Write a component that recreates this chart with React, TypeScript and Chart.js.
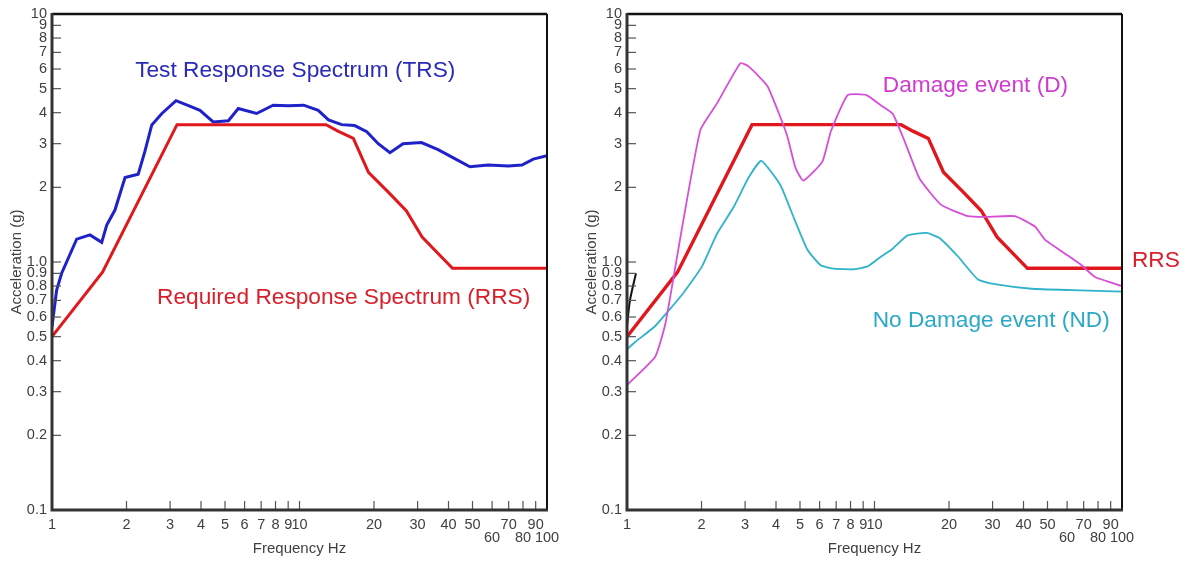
import React, { useEffect, useRef } from 'react';
import { Chart, registerables } from 'chart.js';

Chart.register(...registerables);

// ---------- tick values ----------
const xTickValues = [1, 2, 3, 4, 5, 6, 7, 8, 9, 10, 20, 30, 40, 50, 60, 70, 80, 90, 100];
const xSecondLine = [60, 80, 100];
const yTickValues = [0.1, 0.2, 0.3, 0.4, 0.5, 0.6, 0.7, 0.8, 0.9, 1, 2, 3, 4, 5, 6, 7, 8, 9, 10];

// ---------- left chart: TRS vs RRS ----------
const trsFreq = [1, 1.044, 1.094, 1.258, 1.424, 1.588, 1.664, 1.796, 1.973, 2.23, 2.37, 2.53, 2.78, 3.17, 3.56, 3.96, 4.48, 5.16, 5.66, 6.71, 7.83, 9.0, 10.4, 11.9, 13.1, 14.8, 16.7, 18.7, 20.8, 23.2, 26.2, 31.1, 36.3, 42.4, 48.8, 57.9, 69.8, 79.2, 88, 100];
const trsAcc = [0.548, 0.771, 0.901, 1.236, 1.286, 1.2, 1.41, 1.62, 2.19, 2.26, 2.78, 3.57, 3.97, 4.47, 4.27, 4.09, 3.67, 3.71, 4.16, 3.97, 4.29, 4.27, 4.29, 4.09, 3.74, 3.58, 3.55, 3.35, 3.0, 2.76, 3.0, 3.03, 2.84, 2.61, 2.42, 2.46, 2.44, 2.46, 2.6, 2.68];

const rrsFreq = [1, 1.6, 3.2, 12.8, 14.3, 16.5, 19.0, 23.0, 27.0, 31.3, 41.5, 100];
const rrsAcc = [0.5, 0.91, 3.58, 3.58, 3.37, 3.15, 2.3, 1.9, 1.61, 1.26, 0.943, 0.943];

// ---------- right chart: damage / no damage ----------
const dFreq = [1, 1.3, 1.43, 1.67, 1.98, 2.31, 2.87, 3.1, 3.69, 4.11, 4.44, 4.8, 5.16, 6.16, 6.66, 7.79, 9.27, 10.6, 11.85, 13.25, 15.2, 18.6, 23.9, 27.9, 36.9, 44.5, 48.8, 58.9, 68.7, 77.8, 100];
const dAcc = [0.319, 0.415, 0.566, 1.38, 3.41, 4.36, 6.33, 6.15, 5.13, 3.97, 3.22, 2.39, 2.13, 2.54, 3.36, 4.71, 4.71, 4.29, 3.96, 3.06, 2.17, 1.7, 1.53, 1.52, 1.53, 1.39, 1.23, 1.08, 0.97, 0.87, 0.8];

const ndFreq = [1, 1.08, 1.3, 1.69, 2.01, 2.31, 2.7, 3.1, 3.49, 4.17, 4.73, 5.36, 6.06, 6.87, 8.27, 9.38, 10.6, 11.7, 13.6, 16.2, 18.3, 21.8, 26.2, 31.6, 43.1, 62.7, 100];
const ndAcc = [0.445, 0.476, 0.552, 0.75, 0.96, 1.3, 1.67, 2.19, 2.56, 2.04, 1.5, 1.12, 0.97, 0.94, 0.935, 0.96, 1.05, 1.12, 1.28, 1.31, 1.25, 1.05, 0.85, 0.81, 0.78, 0.77, 0.76];

const markFreq = [1, 1.028, 1.087];
const markAcc = [0.55, 0.7, 0.9];

// ---------- styling ----------
const FONT = "'Liberation Sans', Arial, Helvetica, sans-serif";
const BLUE = '#1f22c9';
const RED = '#e0181d';
const MAGENTA = '#d64fd6';
const CYAN = '#2fb3cb';
const AXIS_TEXT = '#404040';

const toPoints = (xs: number[], ys: number[]) => xs.map((x, i) => ({ x, y: ys[i] }));

const framePlugin = {
  id: 'frame',
  afterDatasetsDraw(chart: any) {
    const { ctx, chartArea } = chart;
    const { left, right, top, bottom } = chartArea;
    const xs = chart.scales.x;
    const ys = chart.scales.y;
    ctx.save();
    ctx.strokeStyle = '#555';
    ctx.lineWidth = 1.2;
    yTickValues.forEach((v) => {
      const py = ys.getPixelForValue(v);
      ctx.beginPath();
      ctx.moveTo(left, py);
      ctx.lineTo(left + 9, py);
      ctx.stroke();
    });
    xTickValues.forEach((v) => {
      const px = xs.getPixelForValue(v);
      ctx.beginPath();
      ctx.moveTo(px, bottom);
      ctx.lineTo(px, bottom - 9);
      ctx.stroke();
    });
    // top & right border
    ctx.strokeStyle = '#111';
    ctx.lineWidth = 2.5;
    ctx.beginPath();
    ctx.moveTo(left, top);
    ctx.lineTo(right, top);
    ctx.stroke();
    ctx.lineWidth = 2;
    ctx.beginPath();
    ctx.moveTo(right, top);
    ctx.lineTo(right, bottom);
    ctx.stroke();
    // left & bottom axes
    ctx.strokeStyle = '#333';
    ctx.lineWidth = 3;
    ctx.beginPath();
    ctx.moveTo(left, top - 1);
    ctx.lineTo(left, bottom);
    ctx.lineTo(right + 1, bottom);
    ctx.stroke();
    ctx.restore();
  },
};

const notesPlugin = {
  id: 'notes',
  afterDraw(chart: any, _args: any, opts: any) {
    const { ctx } = chart;
    const xs = chart.scales.x;
    const ys = chart.scales.y;
    ctx.save();
    ctx.textAlign = 'left';
    ctx.textBaseline = 'alphabetic';
    (opts.items || []).forEach((it: any) => {
      ctx.font = `22.7px ${FONT}`;
      ctx.fillStyle = it.color;
      ctx.fillText(it.text, xs.getPixelForValue(it.f), ys.getPixelForValue(it.v));
    });
    ctx.restore();
  },
};

function makeConfig(datasets: any[], notes: any[], yAxisWidth: number, padRight: number, titlePad: number) {
  return {
    type: 'line',
    data: { datasets },
    plugins: [framePlugin, notesPlugin],
    options: {
      animation: false,
      responsive: false,
      devicePixelRatio: 1,
      layout: { padding: { left: 0, right: padRight, top: 14, bottom: 0 } },
      elements: { point: { radius: 0 } },
      plugins: {
        legend: { display: false },
        tooltip: { enabled: false },
        notes: { items: notes },
      },
      scales: {
        x: {
          type: 'logarithmic',
          min: 1,
          max: 100,
          grid: { display: false, drawTicks: false },
          border: { display: false },
          afterBuildTicks: (s: any) => {
            s.ticks = xTickValues.map((v) => ({ value: v }));
          },
          afterFit: (s: any) => {
            s.height = 51;
          },
          ticks: {
            autoSkip: false,
            maxRotation: 0,
            minRotation: 0,
            padding: 8,
            color: AXIS_TEXT,
            font: { family: FONT, size: 14.5, lineHeight: 0.92 },
            callback: (v: any) => (xSecondLine.includes(Number(v)) ? ['', String(v)] : String(v)),
          },
          title: {
            display: true,
            text: 'Frequency Hz',
            color: AXIS_TEXT,
            font: { family: FONT, size: 15 },
            padding: { top: 0, bottom: 3 },
          },
        },
        y: {
          type: 'logarithmic',
          min: 0.1,
          max: 10,
          grid: { display: false, drawTicks: false },
          border: { display: false },
          afterBuildTicks: (s: any) => {
            s.ticks = yTickValues.map((v) => ({ value: v }));
          },
          afterFit: (s: any) => {
            s.width = yAxisWidth;
          },
          ticks: {
            autoSkip: false,
            padding: 5,
            color: AXIS_TEXT,
            font: { family: FONT, size: 14.5, lineHeight: 1 },
            callback: (v: any) => {
              const n = Number(v);
              return n <= 1 ? n.toFixed(1) : String(n);
            },
          },
          title: {
            display: true,
            text: 'Acceleration (g)',
            color: AXIS_TEXT,
            font: { family: FONT, size: 15 },
            padding: { top: titlePad, bottom: 0 },
          },
        },
      },
    },
  };
}

const leftNotes = [
  { text: 'Test Response Spectrum (TRS)', f: 2.167, v: 5.57, color: '#2a2ab8' },
  { text: 'Required Response Spectrum (RRS)', f: 2.657, v: 0.677, color: '#d8202a' },
];

const rightNotes = [
  { text: 'Damage event (D)', f: 10.8, v: 4.86, color: '#d03ad0' },
  { text: 'No Damage event (ND)', f: 9.83, v: 0.547, color: '#2aa8c8' },
  { text: 'RRS', f: 109.7, v: 0.954, color: '#d8202a' },
];

function ChartCanvas({ config, left, width }: { config: any; left: number; width: number }) {
  const ref = useRef<HTMLCanvasElement | null>(null);
  useEffect(() => {
    if (!ref.current) return;
    const chart = new Chart(ref.current, config);
    return () => chart.destroy();
  }, [config]);
  return (
    <canvas
      ref={ref}
      width={width}
      height={561}
      style={{ position: 'absolute', left, top: 0, width, height: 561 }}
    />
  );
}

const leftConfig = makeConfig(
  [
    { data: toPoints(rrsFreq, rrsAcc), borderColor: RED, borderWidth: 3, tension: 0, fill: false },
    { data: toPoints(trsFreq, trsAcc), borderColor: BLUE, borderWidth: 3, tension: 0, fill: false },
  ],
  leftNotes,
  52,
  36,
  8
);

const rightConfig = makeConfig(
  [
    { data: toPoints(dFreq, dAcc), borderColor: MAGENTA, borderWidth: 1.8, tension: 0.15, fill: false },
    { data: toPoints(ndFreq, ndAcc), borderColor: CYAN, borderWidth: 1.8, tension: 0.15, fill: false },
    { data: toPoints(rrsFreq, rrsAcc), borderColor: RED, borderWidth: 3.4, tension: 0, fill: false },
    { data: toPoints(markFreq, markAcc), borderColor: '#111', borderWidth: 2, tension: 0.3, fill: false },
  ],
  rightNotes,
  44,
  62,
  0
);

export default function App() {
  return (
    <div style={{ position: 'fixed', left: 0, top: 0, width: 1184, height: 561, background: '#fff' }}>
      <ChartCanvas config={leftConfig} left={0} width={583} />
      <ChartCanvas config={rightConfig} left={583} width={601} />
    </div>
  );
}
